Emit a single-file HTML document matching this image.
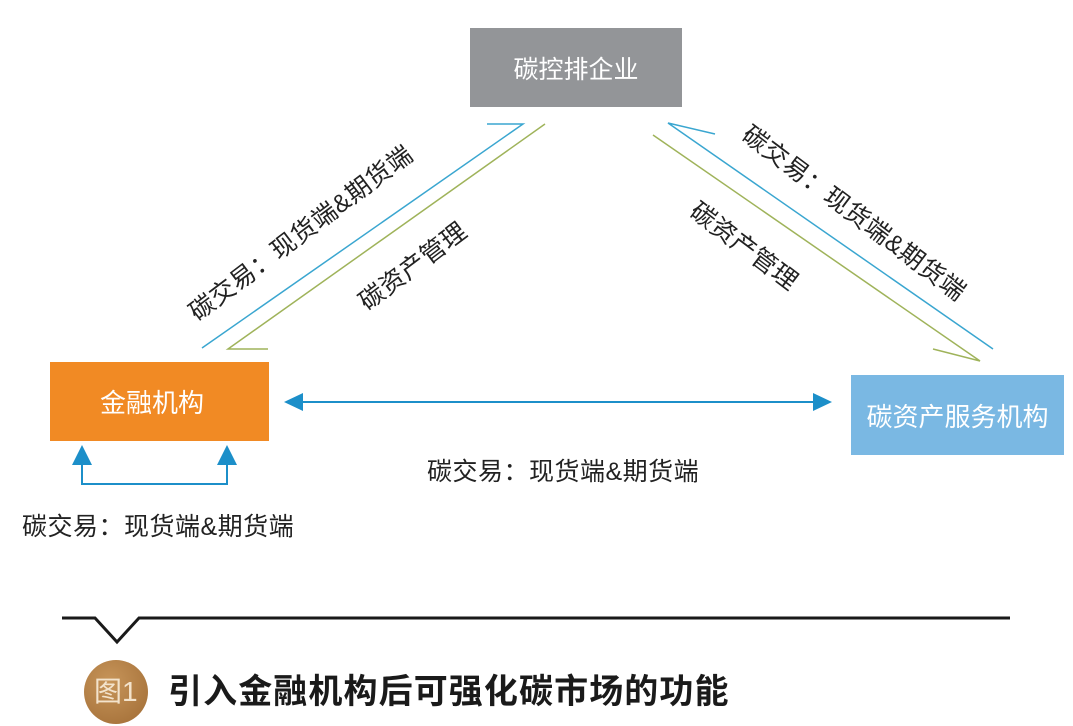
<!DOCTYPE html>
<html><head><meta charset="utf-8"><style>
html,body{margin:0;padding:0;background:#fff;}
body{width:1073px;height:726px;position:relative;overflow:hidden;font-family:"Liberation Sans","Noto Sans CJK SC",sans-serif;}
.box{position:absolute;color:#fff;font-size:25px;display:flex;align-items:center;justify-content:center;}
.lbl{position:absolute;font-size:25px;color:#222;white-space:nowrap;transform-origin:center center;letter-spacing:0.5px;}
</style></head><body>
<svg width="1073" height="726" style="position:absolute;left:0;top:0">
  <polyline points="202,348 523,124 487,124" fill="none" stroke="#3aa6d0" stroke-width="1.5"/>
  <polyline points="545,124 228,349 268,349" fill="none" stroke="#9fb35a" stroke-width="1.5"/>
  <polyline points="715,134 668,123 993,349" fill="none" stroke="#3aa6d0" stroke-width="1.5"/>
  <polyline points="653,135 980,361 933,349" fill="none" stroke="#9fb35a" stroke-width="1.5"/>
  <line x1="300" y1="402" x2="815" y2="402" stroke="#1c8fc9" stroke-width="2"/>
  <polygon points="284,402 303,393 303,411" fill="#1c8fc9"/>
  <polygon points="832,402 813,393 813,411" fill="#1c8fc9"/>
  <polyline points="82,462 82,484 227,484 227,462" fill="none" stroke="#1c8fc9" stroke-width="2"/>
  <polygon points="82,445 72,465 92,465" fill="#1c8fc9"/>
  <polygon points="227,445 217,465 237,465" fill="#1c8fc9"/>
  <polyline points="62,618 95,618 117,642 139,618 1010,618" fill="none" stroke="#1a1a1a" stroke-width="3"/>
  <defs><radialGradient id="g" cx="40%" cy="35%" r="70%"><stop offset="0" stop-color="#c7955a"/><stop offset="1" stop-color="#a8743c"/></radialGradient></defs>
  <circle cx="116" cy="692" r="32" fill="url(#g)"/>
</svg>
<div class="box" style="left:470px;top:28px;width:212px;height:79px;background:#939598;">碳控排企业</div>
<div class="box" style="left:50px;top:362px;width:219px;height:79px;background:#f18a24;justify-content:flex-start;padding-left:50px;box-sizing:border-box;font-size:26px;">金融机构</div>
<div class="box" style="left:851px;top:375px;width:213px;height:80px;background:#7ab8e3;font-size:26px;">碳资产服务机构</div>

<div class="lbl" style="left:300px;top:232px;transform:translate(-50%,-50%) rotate(-37deg);">碳交易：现货端&amp;期货端</div>
<div class="lbl" style="left:412px;top:265px;transform:translate(-50%,-50%) rotate(-37deg);">碳资产管理</div>
<div class="lbl" style="left:855px;top:212px;transform:translate(-50%,-50%) rotate(37deg);">碳交易：现货端&amp;期货端</div>
<div class="lbl" style="left:745px;top:245px;transform:translate(-50%,-50%) rotate(37deg);">碳资产管理</div>

<div class="lbl" style="left:427px;top:452px;">碳交易：现货端&amp;期货端</div>
<div class="lbl" style="left:22px;top:507px;">碳交易：现货端&amp;期货端</div>

<div style="position:absolute;left:94px;top:674px;font-size:28px;color:#f3e3cc;line-height:36px;">图1</div>
<div style="position:absolute;left:168px;top:670px;font-size:34px;font-weight:bold;color:#1a1a1a;line-height:44px;letter-spacing:1.1px;white-space:nowrap;">引入金融机构后可强化碳市场的功能</div>
</body></html>
